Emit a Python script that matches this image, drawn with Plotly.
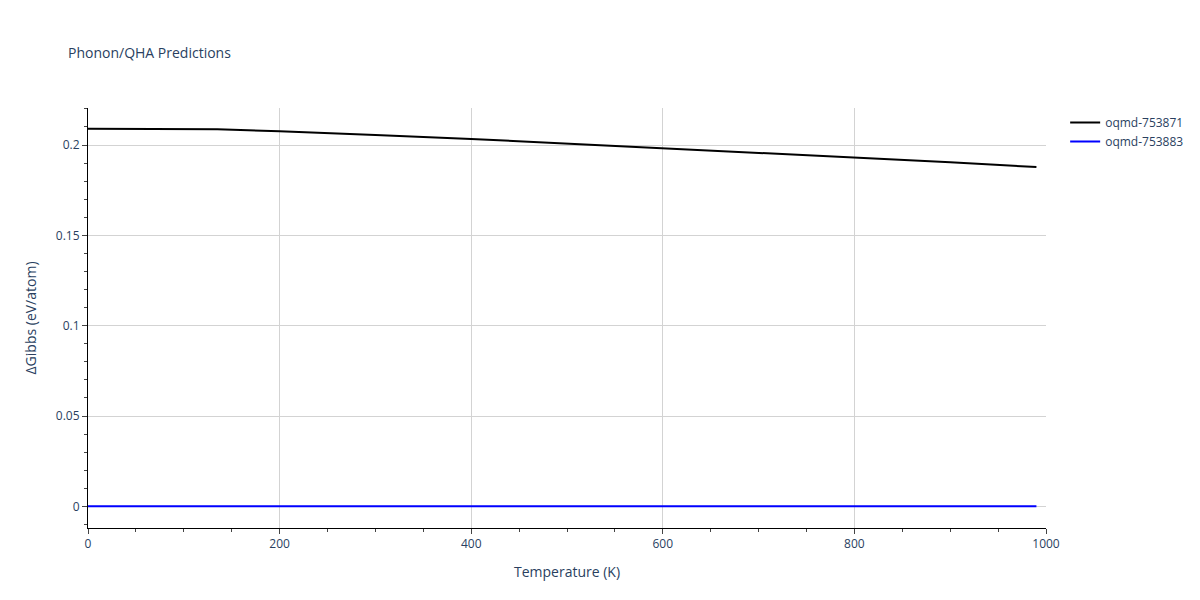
import plotly.graph_objs as go

temps_a = [0, 50, 100, 135, 200, 250, 300, 400, 500, 600, 700, 800, 900, 990]
gibbs_a = [0.2090, 0.2089, 0.2088, 0.2087, 0.2076, 0.2067, 0.2055, 0.2034, 0.2009, 0.1983, 0.1958, 0.1932, 0.1905, 0.1878]
temps_b = [0, 100, 200, 300, 400, 500, 600, 700, 800, 900, 990]
gibbs_b = [0, 0, 0, 0, 0, 0, 0, 0, 0, 0, 0]

fig = go.Figure(data = [go.Scatter(name = 'oqmd-753871', x = temps_a, y = gibbs_a, mode = 'lines',
                                   line = dict(color = 'black', width = 2)),
                        go.Scatter(name = 'oqmd-753883', x = temps_b, y = gibbs_b, mode = 'lines',
                                   line = dict(color = 'blue', width = 2))])

fig.update_layout(title_text = 'Phonon/QHA Predictions',
                  title_font = dict(size = 14),
                  width = 1200, height = 600,
                  margin = dict(l = 80, r = 162, t = 100, b = 80),
                  paper_bgcolor = 'white',
                  plot_bgcolor = 'white',
                  xaxis_title = 'Temperature (K)',
                  yaxis_title = 'ΔGibbs (eV/atom)')

fig.update_xaxes(range = [0, 1000], showline = True, linecolor = 'black', gridcolor = 'lightgray',
                 ticks = 'outside', minor = dict(ticks = 'outside', dtick = 50), zeroline = False)
fig.update_yaxes(range = [-0.012, 0.2205], showline = True, linecolor = 'black', gridcolor = 'lightgray',
                 ticks = 'outside', minor = dict(ticks = 'outside', dtick = 0.01), zeroline = False)

fig.write_html("out.html")
